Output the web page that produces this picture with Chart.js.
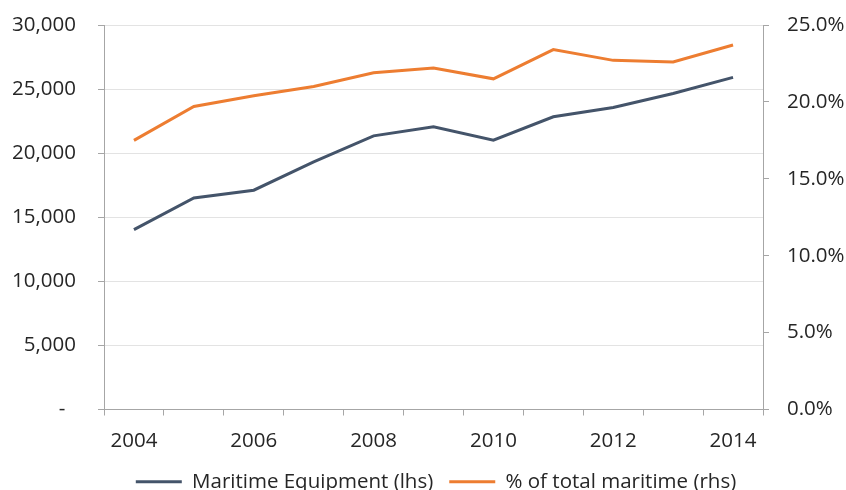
<!DOCTYPE html>
<html>
<head>
<meta charset="utf-8">
<script src="https://cdn.jsdelivr.net/npm/chart.js@4"></script>
<style>
  body { margin: 0; background: #fff; }
  #wrap { width: 846px; height: 490px; position: relative; }
</style>
</head>
<body>
<div id="wrap"><canvas id="chart"></canvas></div>
<script>
// Maritime equipment value (lhs) and share of total maritime (rhs)
const years = ['2004', '2005', '2006', '2007', '2008', '2009', '2010', '2011', '2012', '2013', '2014'];
const equipment = [14040, 16510, 17110, 19320, 21350, 22060, 21020, 22840, 23570, 24660, 25910];
const sharePct = [17.5, 19.7, 20.4, 21.0, 21.9, 22.2, 21.5, 23.4, 22.7, 22.6, 23.7];
const leftTicks = [0, 5000, 10000, 15000, 20000, 25000, 30000];
const rightTicks = [0, 5, 10, 15, 20, 25];

const FONT = "'Open Sans', sans-serif";
const TEXT = '#262626';
const AXIS = '#a6a6a6';
const GRID = '#e3e3e3';

Chart.defaults.font.family = FONT;
Chart.defaults.font.size = 20.5;
Chart.defaults.color = TEXT;

// legend sits a little right of the canvas centre, over the plot area
const legendShift = {
    id: 'legendShift',
    afterLayout(chart) {
        chart.legend.left += 13;
        chart.legend.right += 13;
    }
};

new Chart(document.getElementById('chart').getContext('2d'), {
    type: 'line',
    data: {
        labels: years,
        datasets: [{
            label: 'Maritime Equipment (lhs)',
            data: equipment,
            borderColor: '#44546a',
            backgroundColor: '#44546a',
            borderWidth: 3,
            pointRadius: 0,
            tension: 0,
            yAxisID: 'y'
        }, {
            label: '% of total maritime (rhs)',
            data: sharePct,
            borderColor: '#ed7d31',
            backgroundColor: '#ed7d31',
            borderWidth: 3,
            pointRadius: 0,
            tension: 0,
            yAxisID: 'y1'
        }]
    },
    plugins: [legendShift],
    options: {
        responsive: true,
        maintainAspectRatio: false,
        animation: false,
        layout: { padding: { top: 25, left: 0, right: 0, bottom: -12 } },
        plugins: {
            tooltip: { enabled: false },
            legend: {
                position: 'bottom',
                labels: {
                    usePointStyle: true,
                    pointStyle: 'line',
                    pointStyleWidth: 46,
                    boxWidth: 46,
                    padding: 16,
                    color: TEXT,
                    font: { size: 20.5 }
                }
            }
        },
        scales: {
            x: {
                offset: true,
                grid: { offset: true, drawOnChartArea: false, tickLength: 6, color: AXIS },
                border: { color: AXIS },
                ticks: {
                    autoSkip: false,
                    maxRotation: 0,
                    padding: 13,
                    callback: (v, i) => i % 2 === 0 ? years[i] : ''
                },
                afterFit: s => { s.height = 46; }
            },
            y: {
                position: 'left',
                min: 0,
                max: 30000,
                afterBuildTicks: s => { s.ticks = leftTicks.map(v => ({ value: v })); },
                grid: { color: GRID, tickColor: AXIS, tickLength: 6 },
                border: { color: AXIS },
                ticks: {
                    padding: 22,
                    callback: v => v === 0 ? '-  ' : v.toLocaleString('en-US')
                },
                afterFit: s => { s.width = 104; s.paddingTop = 0; s.paddingBottom = 0; }
            },
            y1: {
                position: 'right',
                min: 0,
                max: 25,
                afterBuildTicks: s => { s.ticks = rightTicks.map(v => ({ value: v })); },
                grid: { drawOnChartArea: false, tickColor: AXIS, tickLength: 6 },
                border: { color: AXIS },
                ticks: {
                    padding: 18,
                    callback: v => v.toFixed(1) + '%'
                },
                afterFit: s => { s.width = 83; s.paddingTop = 0; s.paddingBottom = 0; }
            }
        }
    }
});
</script>
</body>
</html>
